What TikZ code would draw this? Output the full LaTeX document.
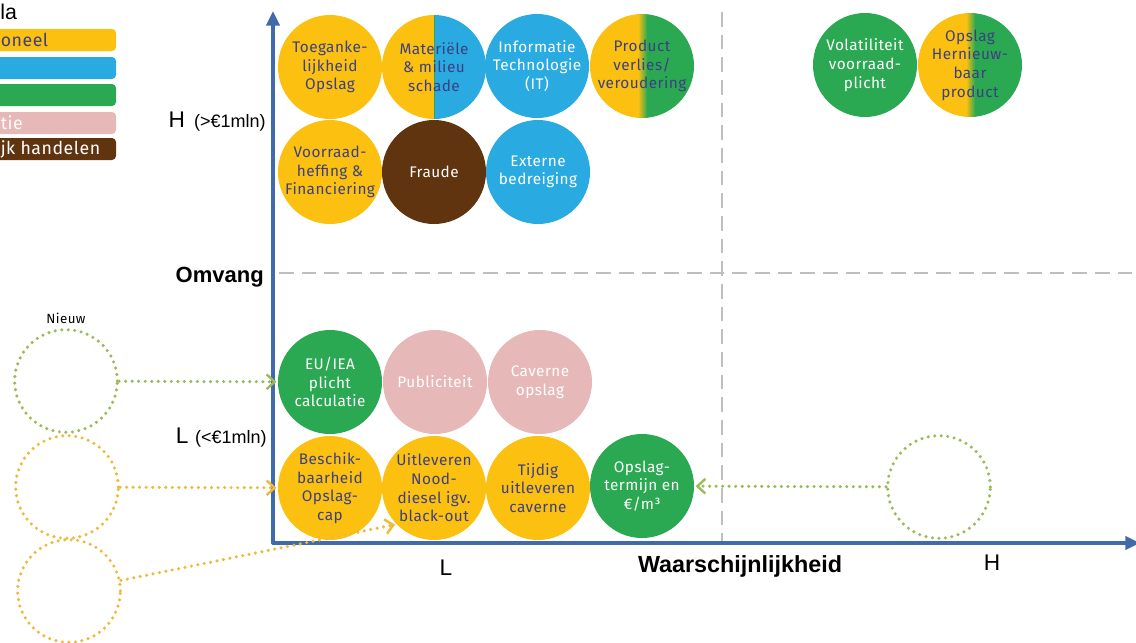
\documentclass[tikz,border=0pt]{standalone}
\usepackage{fontspec}
\setmainfont{Fira Sans}[LetterSpace=3]
\newfontfamily\axisfont{Liberation Sans}
\usetikzlibrary{arrows.meta}
\usetikzlibrary{shadings}

\definecolor{gold}{RGB}{251,192,16}
\definecolor{sky}{RGB}{41,171,226}
\definecolor{leaf}{RGB}{42,169,82}
\definecolor{rose}{RGB}{230,185,184}
\definecolor{bark}{RGB}{97,52,16}
\definecolor{ink}{RGB}{60,64,128}
\definecolor{axisblue}{RGB}{65,106,170}
\definecolor{sage}{RGB}{155,187,89}
\definecolor{ochre}{RGB}{236,186,60}
\definecolor{fog}{RGB}{191,191,191}

\begin{document}
\begin{tikzpicture}[line cap=round,line join=round,x=0.75pt,y=-0.75pt,
  >={Straight Barb[length=6pt,width=11pt,line width=1.8pt]},
  risk/.style={circle,minimum size=78pt,inner sep=0pt,align=center,
    font=\fontsize{11.5}{14}\selectfont},
  dark/.style={risk,fill=gold,text=ink},
  light/.style={risk,fill=#1,text=white},
  split/.style={risk,text=ink,path picture={
    \fill[gold] (path picture bounding box.south west) rectangle (path picture bounding box.north);
    \fill[sky] (path picture bounding box.south) rectangle (path picture bounding box.north east);
    \draw[leaf,line width=0.6pt] (path picture bounding box.south) -- (path picture bounding box.north);}},
  blend/.style={risk,text=ink,path picture={
    \fill[gold] (path picture bounding box.south west) rectangle ([xshift=-3pt]path picture bounding box.north);
    \shade[left color=gold,right color=leaf] ([xshift=-3pt]path picture bounding box.south) rectangle ([xshift=4pt]path picture bounding box.north);
    \fill[leaf] ([xshift=4pt]path picture bounding box.south) rectangle (path picture bounding box.north east);}},
  newring/.style={circle,minimum size=77pt,inner sep=0pt,line width=2.6pt,dash pattern=on 0pt off 4.9pt},
  newlink/.style={line width=2.6pt,dash pattern=on 0pt off 4.9pt,shorten >=1pt},
  axis/.style={axisblue,line width=2.3pt,-{Triangle[length=11pt,width=10pt]}},
  grid/.style={fog,line width=1.9pt,line cap=butt,dash pattern=on 11pt off 6pt},
  legtext/.style={anchor=west,inner sep=0pt,font=\fontsize{13.3}{15}\selectfont}]
\useasboundingbox (0,0) rectangle (1136,643);
\clip (0,0) rectangle (1136,643);

% legend
\node[anchor=west,inner sep=0pt,font=\axisfont\fontsize{16}{18}\selectfont] (legTitle) at (0,12) {la};
\foreach \c/\y in {gold/40,sky/68,leaf/95,rose/123,bark/149}
  \fill[\c,rounded corners=3pt] (-40,\y-11) rectangle (116,\y+11);
\node[legtext,text=ink] (legOper) at (0.5,40) {oneel};
\node[legtext,text=white!95!rose] (legRep) at (0.5,123) {tie};
\node[legtext,text=white] (legInt) at (0.5,149) {jk handelen};

% axes and quadrant lines
\coordinate (origin) at (273,543);
\coordinate (ytop) at (273,11);
\coordinate (xend) at (1140,543);
\coordinate (vtop) at (722,12);
\coordinate (vbot) at (722,541);
\coordinate (hleft) at (279,273);
\coordinate (hright) at (1136,273);
\draw[grid] (vtop) -- (vbot);
\draw[grid] (hleft) -- (hright);
\draw[axis] (origin) -- (ytop);
\draw[axis] (origin) -- (xend);

\node[anchor=east,inner sep=0pt,font=\axisfont] (hiImpact) at (266,122)
  {{\fontsize{17}{19}\selectfont H}\hspace{7pt}{\fontsize{13.5}{15}\selectfont(>€1mln)}};
\node[anchor=east,inner sep=0pt,font=\axisfont] (loImpact) at (267,438)
  {{\fontsize{17}{19}\selectfont L}\hspace{5pt}{\fontsize{13.5}{15}\selectfont(<€1mln)}};
\node[anchor=east,inner sep=0pt,font=\axisfont\bfseries\fontsize{16.5}{18}\selectfont] (omvang) at (264,277) {Omvang};
\node[inner sep=0pt,font=\axisfont\bfseries\fontsize{17.5}{19}\selectfont] (kans) at (740,566) {Waarschijnlijkheid};
\node[inner sep=0pt,font=\axisfont\fontsize{17}{19}\selectfont] (loKans) at (446,568) {L};
\node[inner sep=0pt,font=\axisfont\fontsize{17}{19}\selectfont] (hiKans) at (992,563) {H};

% high impact
\node[dark] (toegang) at (330,67) {Toeganke-\\lijkheid\\Opslag};
\node[split] (materieel) at (434,67) {Materiële\\\& milieu\\schade};
\node[light=sky] (it) at (537,66) {Informatie\\Technologie\\(IT)};
\node[blend] (verlies) at (642,66) {Product\\verlies/\\veroudering};
\node[dark] (voorraad) at (330,172) {Voorraad-\\heffing \&\\Financiering};
\node[light=bark] (fraude) at (434,172) {Fraude};
\node[light=sky] (extern) at (538,172) {Externe\\bedreiging};
\node[light=leaf] (volatiel) at (865,65) {Volatiliteit\\voorraad-\\plicht};
\node[blend] (hernieuw) at (970,65) {Opslag\\Hernieuw-\\baar\\product};

% low impact
\node[light=leaf] (euiea) at (330,382) {EU/IEA\\plicht\\calculatie};
\node[light=rose] (publiciteit) at (435,382) {Publiciteit};
\node[light=rose] (caverne) at (540,382) {Caverne\\opslag};
\node[dark] (beschik) at (330,488) {Beschik-\\baarheid\\Opslag-\\cap};
\node[dark] (nood) at (434,488) {Uitleveren\\Nood-\\diesel igv.\\black-out};
\node[dark] (tijdig) at (538,488) {Tijdig\\uitleveren\\caverne};
\node[light=leaf] (termijn) at (642,486) {Opslag-\\termijn en\\€/m³};

% new risks
\node[inner sep=0pt,font=\fontsize{10}{12}\selectfont] (nieuwLabel) at (66,318) {Nieuw};
\node[newring,draw=sage] (nieuwA) at (66,381) {};
\node[newring,draw=ochre] (nieuwB) at (67,487) {};
\node[newring,draw=ochre] (nieuwC) at (69,591) {};
\node[newring,draw=sage] (nieuwD) at (939,487) {};
\draw[newlink,sage,->] (nieuwA) -- (euiea);
\draw[newlink,ochre,->] (nieuwB) -- (beschik);
\draw[newlink,ochre,->] (nieuwC) -- (nood.224);
\draw[newlink,sage,->] (nieuwD) -- (termijn);
\end{tikzpicture}
\end{document}
